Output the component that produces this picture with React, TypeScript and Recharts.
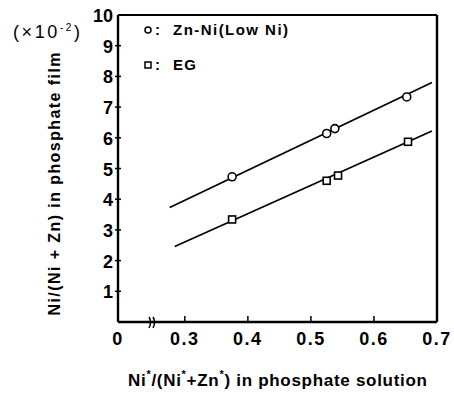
import React from 'react';
import { ComposedChart, Line, Scatter, XAxis, YAxis, ReferenceDot, Legend } from 'recharts';

const xTickValues = [0.194, 0.3, 0.4, 0.5, 0.6, 0.7];
const xTickLabels = ['0', '0.3', '0.4', '0.5', '0.6', '0.7'];
const yTickValues = [1, 2, 3, 4, 5, 6, 7, 8, 9, 10];

const znNiX = [0.375, 0.525, 0.538, 0.652];
const znNiY = [4.73, 6.14, 6.3, 7.33];
const egX = [0.375, 0.525, 0.543, 0.654];
const egY = [3.34, 4.6, 4.77, 5.87];

const znNiFitX = [0.276, 0.692];
const znNiFitY = [3.73, 7.8];
const egFitX = [0.284, 0.692];
const egFitY = [2.46, 6.22];

const breakX = 0.248;

const seriesNames = ['Zn-Ni(Low Ni)', 'EG'];

const FONT = '"Liberation Sans", Arial, Helvetica, sans-serif';

const znNiPoints = znNiX.map((x, i) => ({ x, y: znNiY[i] }));
const egPoints = egX.map((x, i) => ({ x, y: egY[i] }));
const znNiFit = znNiFitX.map((x, i) => ({ x, y: znNiFitY[i] }));
const egFit = egFitX.map((x, i) => ({ x, y: egFitY[i] }));

const XTick = (props: any) => {
  const { x, y, payload } = props;
  const i = xTickValues.indexOf(payload.value);
  const label = i >= 0 ? xTickLabels[i] : String(payload.value);
  return (
    <g>
      {i > 0 && <line x1={x} x2={x} y1={y} y2={y - 6} stroke="#000" strokeWidth={1.5} />}
      <text x={x} y={y + 23} textAnchor="middle" fontFamily={FONT} fontSize={18} fontWeight="bold" letterSpacing={1.5} fill="#000">
        {label}
      </text>
    </g>
  );
};

const YTick = (props: any) => {
  const { x, y, payload } = props;
  return (
    <g>
      {payload.value !== 10 && <line x1={x - 3} x2={x + 3} y1={y} y2={y} stroke="#000" strokeWidth={1.5} />}
      <text x={x - 5} y={y + 7} textAnchor="end" fontFamily={FONT} fontSize={18} fontWeight="bold" fill="#000">
        {payload.value}
      </text>
    </g>
  );
};

const CircleShape = (props: any) => (
  <circle cx={props.cx} cy={props.cy} r={4} fill="#fff" stroke="#000" strokeWidth={1.6} />
);
const SquareShape = (props: any) => (
  <rect x={props.cx - 3.5} y={props.cy - 3.5} width={7} height={7} fill="#fff" stroke="#000" strokeWidth={1.6} />
);

const BreakShape = (props: any) => {
  const { cx, cy } = props;
  return (
    <g fill="none" stroke="#000" strokeWidth={1.5}>
      <path d={`M ${cx - 3} ${cy - 5} Q ${cx} ${cy} ${cx - 3} ${cy + 6}`} />
      <path d={`M ${cx + 1} ${cy - 5} Q ${cx + 4} ${cy} ${cx + 1} ${cy + 6}`} />
    </g>
  );
};

const LegendContent = () => (
  <svg width={170} height={60} style={{ overflow: 'visible', position: 'absolute', left: 0, top: 0 }}>
    <circle cx={8} cy={10} r={3} fill="#fff" stroke="#000" strokeWidth={1.5} />
    <text x={15} y={15} fontFamily={FONT} fontSize={15} fontWeight="bold">:</text>
    <text x={33} y={15} fontFamily={FONT} fontSize={15} fontWeight="bold" textLength={115} lengthAdjust="spacing">
      {seriesNames[0]}
    </text>
    <rect x={5} y={42} width={6} height={6} fill="#fff" stroke="#000" strokeWidth={1.5} />
    <text x={15} y={50} fontFamily={FONT} fontSize={15} fontWeight="bold">:</text>
    <text x={33} y={50} fontFamily={FONT} fontSize={15} fontWeight="bold" textLength={23} lengthAdjust="spacing">
      {seriesNames[1]}
    </text>
  </svg>
);

export default function App() {
  return (
    <div style={{ position: 'absolute', left: 0, top: 0, width: 454, height: 394, background: '#fff' }}>
      <ComposedChart width={454} height={394} margin={{ top: 14, right: 16, bottom: 71, left: 117 }}>
        <XAxis
          dataKey="x"
          type="number"
          domain={[0.194, 0.7]}
          ticks={xTickValues}
          interval={0}
          allowDataOverflow
          height={1}
          tickSize={0}
          tickMargin={0}
          tickLine={false}
          tick={<XTick />}
          axisLine={{ stroke: '#000', strokeWidth: 2.4 }}
        />
        <XAxis
          xAxisId="top"
          orientation="top"
          type="number"
          dataKey="x"
          domain={[0.194, 0.7]}
          height={1}
          tick={false}
          tickLine={false}
          axisLine={{ stroke: '#000', strokeWidth: 2 }}
        />
        <YAxis
          dataKey="y"
          type="number"
          domain={[0, 10]}
          ticks={yTickValues}
          interval={0}
          width={1}
          tickSize={0}
          tickMargin={0}
          tickLine={false}
          tick={<YTick />}
          axisLine={{ stroke: '#000', strokeWidth: 2.4 }}
        />
        <YAxis
          yAxisId="right"
          orientation="right"
          type="number"
          dataKey="y"
          domain={[0, 10]}
          width={1}
          tick={false}
          tickLine={false}
          axisLine={{ stroke: '#000', strokeWidth: 2.4 }}
        />
        <Line data={znNiFit} dataKey="y" stroke="#000" strokeWidth={1.8} dot={false} isAnimationActive={false} legendType="none" />
        <Line data={egFit} dataKey="y" stroke="#000" strokeWidth={1.8} dot={false} isAnimationActive={false} legendType="none" />
        <Scatter name={seriesNames[0]} data={znNiPoints} dataKey="y" shape={<CircleShape />} isAnimationActive={false} />
        <Scatter name={seriesNames[1]} data={egPoints} dataKey="y" shape={<SquareShape />} isAnimationActive={false} />
        <ReferenceDot x={breakX} y={0} ifOverflow="visible" shape={<BreakShape />} />
        <Legend
          content={<LegendContent />}
          wrapperStyle={{ position: 'absolute', left: 140, top: 20, width: 0, height: 0, overflow: 'visible' }}
        />
      </ComposedChart>
      <svg width={454} height={394} style={{ position: 'absolute', left: 0, top: 0, pointerEvents: 'none' }}>
        <text x={13} y={38} fontFamily={FONT} fontSize={18} textLength={67} lengthAdjust="spacing">
          (×10<tspan dy={-7} fontSize={10}>-2</tspan><tspan dy={7}>)</tspan>
        </text>
        <text transform="translate(60,184) rotate(-90)" textAnchor="middle" fontFamily={FONT} fontSize={16} fontWeight="bold" textLength={263} lengthAdjust="spacing">
          Ni/(Ni + Zn) in phosphate film
        </text>
        <text x={128} y={386} fontFamily={FONT} fontSize={17} fontWeight="bold" textLength={299} lengthAdjust="spacing">
          Ni<tspan dy={-8} fontSize={11}>*</tspan><tspan dy={8}>/(Ni</tspan><tspan dy={-8} fontSize={11}>*</tspan><tspan dy={8}>+Zn</tspan><tspan dy={-8} fontSize={11}>*</tspan><tspan dy={8}>) in phosphate solution</tspan>
        </text>
      </svg>
    </div>
  );
}
